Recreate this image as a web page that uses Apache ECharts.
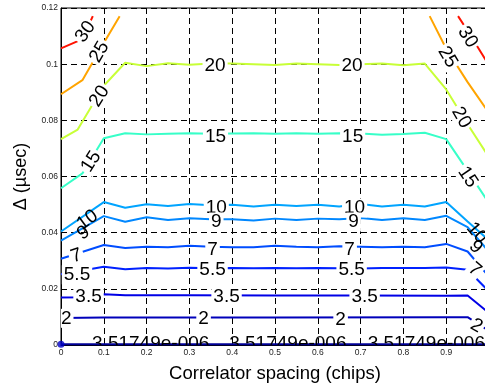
<!DOCTYPE html>
<html><head><meta charset="utf-8">
<script src="https://cdn.jsdelivr.net/npm/echarts@6/dist/echarts.min.js"></script>
<style>html,body{margin:0;padding:0;background:#fff}#c{width:485px;height:389px}</style>
</head><body><div id="c"></div><script>
// contour lines: [x (chips), y (usec)]
const c30a = [[0,0.1056],[0.05,0.1089],[0.0743,0.1171]];
const c30b = [[0.9277,0.1171],[0.95,0.1119],[1.0,0.0996]];
const c25a = [[0,0.0893],[0.05,0.0943],[0.1,0.1075],[0.137,0.1171]];
const c25b = [[0.8614,0.1171],[0.9,0.1055],[0.95,0.0936],[1.0,0.0826]];
const c20 = [[0,0.0733],[0.039,0.0767],[0.1,0.0923],[0.15,0.1005],[0.2,0.0993],[0.25,0.1003],[0.3,0.0998],[0.35,0.1002],[0.4,0.1002],[0.45,0.1000],[0.5,0.0997],[0.55,0.1002],[0.6,0.1000],[0.65,0.0997],[0.7,0.1000],[0.75,0.1002],[0.8,0.0996],[0.85,0.1002],[0.9,0.0910],[0.95,0.0786],[1.0,0.0668]];
const c15 = [[0,0.0558],[0.05,0.0611],[0.1,0.0736],[0.15,0.0754],[0.2,0.0750],[0.25,0.0752],[0.3,0.0754],[0.35,0.0752],[0.4,0.0753],[0.45,0.0754],[0.5,0.0752],[0.55,0.0754],[0.6,0.0752],[0.65,0.0754],[0.7,0.0753],[0.75,0.0749],[0.8,0.0751],[0.85,0.0756],[0.9,0.0733],[0.95,0.0620],[1.0,0.0505]];
const c10 = [[0,0.0404],[0.1,0.0509],[0.15,0.0489],[0.2,0.0501],[0.25,0.0495],[0.3,0.0502],[0.35,0.0498],[0.4,0.0499],[0.45,0.0493],[0.5,0.0499],[0.55,0.0495],[0.6,0.0499],[0.65,0.0493],[0.7,0.0502],[0.75,0.0493],[0.8,0.0499],[0.85,0.0493],[0.9,0.0509],[0.95,0.0440],[1.0,0.0372]];
const c9 = [[0,0.0372],[0.1,0.0459],[0.15,0.0439],[0.2,0.0455],[0.25,0.0445],[0.3,0.0451],[0.35,0.0448],[0.4,0.0448],[0.45,0.0443],[0.5,0.0450],[0.55,0.0445],[0.6,0.0450],[0.65,0.0448],[0.7,0.0452],[0.75,0.0445],[0.8,0.0451],[0.85,0.0445],[0.9,0.0460],[0.95,0.0420],[1.0,0.0332]];
const c7 = [[0,0.0307],[0.1,0.0356],[0.15,0.0345],[0.2,0.0350],[0.25,0.0348],[0.3,0.0353],[0.35,0.0350],[0.4,0.0348],[0.45,0.0348],[0.5,0.0353],[0.55,0.0350],[0.6,0.0348],[0.65,0.0352],[0.7,0.0350],[0.75,0.0348],[0.8,0.0350],[0.85,0.0348],[0.9,0.0360],[0.95,0.0333],[1.0,0.0243]];
const c55 = [[0,0.0252],[0.1,0.0279],[0.15,0.0270],[0.2,0.0274],[0.25,0.0272],[0.3,0.0275],[0.35,0.0273],[0.4,0.0274],[0.45,0.0273],[0.5,0.0274],[0.55,0.0273],[0.6,0.0274],[0.65,0.0273],[0.7,0.0272],[0.75,0.0274],[0.8,0.0274],[0.85,0.0274],[0.9,0.0276],[0.95,0.0268],[1.0,0.0190]];
const c35 = [[0,0.0169],[0.05,0.0170],[0.1,0.0181],[0.15,0.0177],[0.3,0.0177],[0.5,0.0176],[0.7,0.0176],[0.9,0.0175],[0.95,0.0176],[1.0,0.0114]];
const c2 = [[0,0.0096],[0.1,0.0098],[0.5,0.0098],[0.9,0.0099],[0.95,0.0099],[1.0,0.0050]];
const c0 = [[0,0.0003],[1.0,0.0003]];
const originPoint = [[0,0.0003]];

// contour labels: [x, y, text, angle]
const labels = [
  [0.0573,0.1115,'30',55],[0.090,0.1043,'25',60],[0.090,0.0886,'20',58],
  [0.360,0.0995,'20',0],[0.680,0.0995,'20',0],
  [0.9032,0.1025,'25',-59],[0.950,0.1096,'30',-58],[0.9355,0.0810,'20',-60],
  [0.0706,0.0653,'15',58],[0.361,0.0742,'15',0],[0.6814,0.0742,'15',0],[0.9502,0.0598,'15',-56],
  [0.3628,0.0487,'10',0],[0.686,0.0488,'10',0],
  [0.3628,0.0438,'9',0],[0.6837,0.0438,'9',0],
  [0.0362,0.0317,'7',18],[0.3541,0.0339,'7',0],[0.6744,0.0339,'7',0],[0.9666,0.0268,'7',-40],
  [0.0374,0.0250,'5.5',0],[0.3541,0.0268,'5.5',0],[0.679,0.0268,'5.5',0],
  [0.0643,0.0170,'3.5',0],[0.3868,0.0170,'3.5',0],[0.7094,0.0170,'3.5',0],
  [0.0122,0.0095,'2',0],[0.3331,0.0093,'2',0],[0.6533,0.0090,'2',0],[0.9706,0.0068,'2',-30]
];
const plainLabels = [
  [0.0619,0.0445,'10',36],[0.0526,0.0399,'9',35],
  [0.9712,0.0399,'10',-50],[0.9689,0.0349,'9',-45],
  [0.2096,0.00044,'3.51749e-006',0],[0.530,0.00044,'3.51749e-006',0],[0.8536,0.00044,'3.51749e-006',0]
];

const xTitle = 'Correlator spacing (chips)';
const yTitle = 'Δ (µsec)';

const contours = [
  {segs:[c30a,c30b], color:'rgb(255,18,0)'},
  {segs:[c25a,c25b], color:'rgb(255,164,0)'},
  {segs:[c20], color:'rgb(200,255,55)'},
  {segs:[c15], color:'rgb(55,255,200)'},
  {segs:[c10], color:'rgb(0,164,255)'},
  {segs:[c9], color:'rgb(0,135,255)'},
  {segs:[c7], color:'rgb(0,77,255)'},
  {segs:[c55], color:'rgb(0,33,255)'},
  {segs:[c35], color:'rgb(0,0,230)'},
  {segs:[c2], color:'rgb(0,0,186)'},
  {segs:[c0], color:'rgb(0,0,150)'}
];

const series = [];
contours.forEach(c => c.segs.forEach(s => series.push({
  type:'line', data:s, showSymbol:false, symbol:'none', clip:true, z:2, silent:true,
  lineStyle:{color:c.color, width:2}, itemStyle:{color:c.color}
})));
series.push({type:'scatter', data:originPoint, symbol:'circle', symbolSize:7, z:3, silent:true,
  itemStyle:{color:'rgb(0,0,200)'}});

function labelSeries(arr, bg){
  return {
    type:'custom', coordinateSystem:'cartesian2d', clip:true, z:10, silent:true,
    data: arr.map(l => [l[0], l[1]]),
    renderItem: function(params, api){
      const l = arr[params.dataIndex];
      const p = api.coord([l[0], l[1]]);
      const style = {text:l[2], fill:'#000', font:'19px "Liberation Sans", Arial, sans-serif',
        align:'center', verticalAlign:'middle'};
      if (bg) { style.backgroundColor = '#fff'; style.padding = [0,2]; }
      return {type:'text', x:p[0], y:p[1], rotation:l[3]*Math.PI/180, style:style};
    }
  };
}
series.push(labelSeries(labels, true));
series.push(labelSeries(plainLabels, false));

const chart = echarts.init(document.getElementById('c'), null, {renderer:'canvas'});
chart.setOption({
  animation:false,
  backgroundColor:'#fff',
  grid:{left:61, top:8, width:428, height:337, show:true, borderColor:'#000', borderWidth:1,
    backgroundColor:'transparent', containLabel:false, outerBoundsMode:'none'},
  xAxis:{type:'value', min:0, max:1, interval:0.1,
    name:xTitle, nameLocation:'middle', nameGap:19,
    nameTextStyle:{fontSize:18.5, color:'#000', fontFamily:'"Liberation Sans", Arial, sans-serif'},
    axisLine:{show:true, lineStyle:{color:'#000', width:1}}, axisTick:{show:false},
    axisLabel:{fontSize:8.5, color:'#222', margin:3, fontFamily:'"Liberation Sans", Arial, sans-serif'},
    splitLine:{show:true, lineStyle:{color:'#000', type:[6,4], width:1}}},
  yAxis:{type:'value', min:0, max:0.12, interval:0.02,
    name:yTitle, nameLocation:'middle', nameGap:31, nameRotate:90,
    nameTextStyle:{fontSize:18, color:'#000', fontFamily:'"Liberation Sans", Arial, sans-serif'},
    axisLine:{show:true, lineStyle:{color:'#000', width:1}}, axisTick:{show:false},
    axisLabel:{fontSize:8.5, color:'#222', margin:3, fontFamily:'"Liberation Sans", Arial, sans-serif'},
    splitLine:{show:true, lineStyle:{color:'#000', type:[6,4], width:1}}},
  series:series
});
</script></body></html>
